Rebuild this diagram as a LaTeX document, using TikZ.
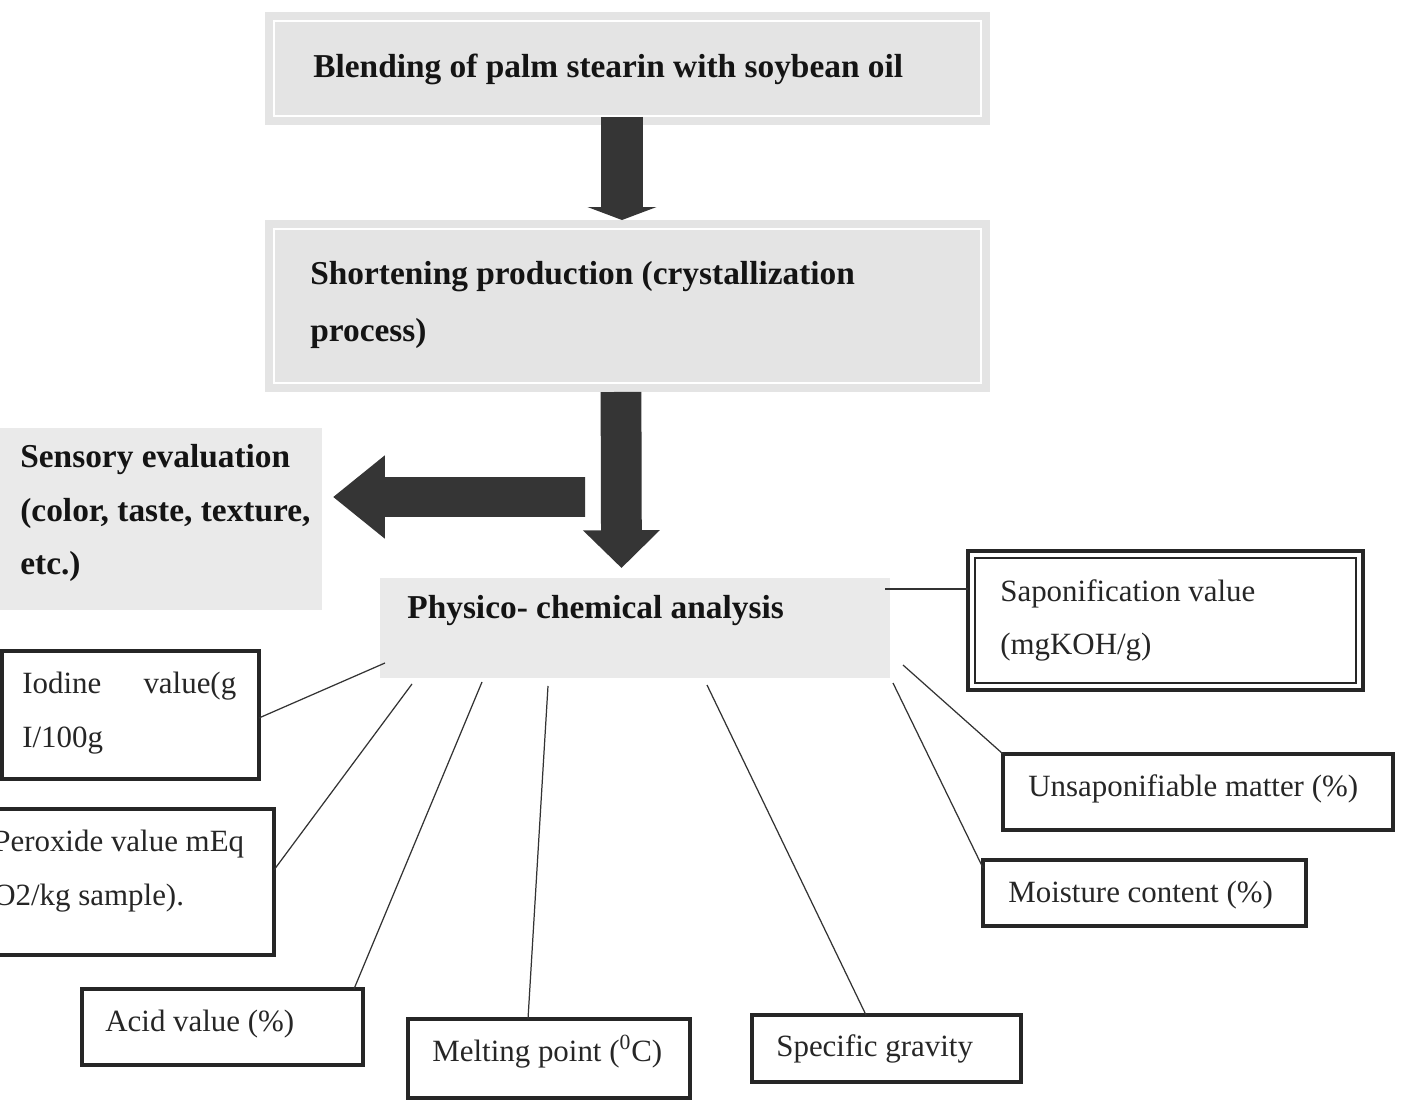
\documentclass[tikz,border=0pt]{standalone}
\usepackage{fontspec}
\setmainfont{Liberation Serif}
\usetikzlibrary{arrows.meta,calc}
\definecolor{boxgray}{HTML}{E4E4E4}
\definecolor{lightgray}{HTML}{EAEAEA}
\definecolor{arrowgray}{HTML}{353535}
\begin{document}
\begin{tikzpicture}[x=0.02cm,y=-0.02cm,
  greybox/.style={fill=boxgray, draw=none, inner sep=0pt, outer sep=0pt},
  paleBox/.style={fill=lightgray, draw=none, inner sep=0pt, outer sep=0pt},
  framebox/.style={draw=black!85, line width=1.9pt, fill=white, inner sep=0pt, outer sep=0pt},
  boldtxt/.style={anchor=base west, inner sep=0pt, align=left, text=black!92,
    font=\bfseries\fontsize{19}{30.6}\selectfont},
  regtxt/.style={anchor=base west, inner sep=0pt, align=left, text=black!85,
    font=\fontsize{17.6}{30.6}\selectfont},
  link/.style={draw=black!80, line width=0.7pt},
  blockarrow/.style={draw=arrowgray}
]
\clip (0,0) rectangle (1401,1101);
\fill[white] (0,0) rectangle (1401,1101);

% grey process boxes
\node[greybox, minimum width=14.5cm, minimum height=2.26cm] (b1) at (627.5,68.5) {};
\draw[white, line width=1.6pt] ([shift={(9,9)}]b1.north west) rectangle ([shift={(-9,-9)}]b1.south east);
\node[boldtxt] (b1t) at (313,78) {Blending of palm stearin with soybean oil};

\node[greybox, minimum width=14.5cm, minimum height=3.44cm] (b2) at (627.5,306) {};
\draw[white, line width=1.6pt] ([shift={(9,9)}]b2.north west) rectangle ([shift={(-9,-9)}]b2.south east);
\node[boldtxt, font=\bfseries\fontsize{19}{32.9}\selectfont] (b2t) at (310,342) {Shortening production (crystallization\\process)};

\node[paleBox, minimum width=6.44cm, minimum height=3.64cm] (sens) at (161,519) {};
\node[boldtxt] (senst) at (20,575) {Sensory evaluation\\(color, taste, texture,\\etc.)};

\node[paleBox, minimum width=10.2cm, minimum height=2.0cm] (phys) at (635,628) {};
\node[boldtxt] (physt) at (407,619) {Physico- chemical analysis};

% block arrows
\draw[blockarrow, line width=24.4pt, -{Triangle[width=39.1pt,length=7.4pt]}]
  ([xshift=-0.11cm,yshift=0.16cm]b1.south) -- ([xshift=-0.11cm]b2.north);
\draw[blockarrow, line width=23.2pt, -{Triangle[width=42.5pt,length=21.5pt]}]
  ([xshift=-0.13cm]b2.south) -- ([xshift=-0.27cm,yshift=0.2cm]phys.north);
\coordinate (a3s) at (585,497);
\draw[blockarrow, line width=22.7pt, -{Triangle[width=45.4pt,length=29.5pt]}]
  (a3s) -- ([xshift=0.22cm,yshift=0.44cm]sens.east);

% analysis boxes
\node[framebox, line width=2.3pt, minimum width=7.9cm, minimum height=2.78cm] (sap) at (1165.5,620.5) {};
\draw[black!85, line width=0.8pt] ([shift={(7,7)}]sap.north west) rectangle ([shift={(-7,-7)}]sap.south east);
\node[regtxt] (sapt) at (1000,655) {Saponification value\\(mgKOH/g)};

\node[framebox, minimum width=5.14cm, minimum height=2.56cm] (iod) at (130.5,715) {};
\node[regtxt] (iodt) at (22,747) {Iodine\hspace{24pt}value(g\\I/100g};

\node[framebox, minimum width=5.68cm, minimum height=2.92cm] (per) at (132,882) {};
\node[regtxt] (pert) at (-7,905) {Peroxide value mEq\\O2/kg sample).};

\node[framebox, minimum width=5.62cm, minimum height=1.52cm] (acid) at (222.5,1027) {};
\node[regtxt] (acidt) at (105,1031) {Acid value (\%)};

\node[framebox, minimum width=5.64cm, minimum height=1.58cm] (melt) at (549,1058.5) {};
\node[regtxt] (meltt) at (432,1061) {Melting point (\textsuperscript{0}C)};

\node[framebox, minimum width=5.38cm, minimum height=1.34cm] (spec) at (886.5,1048.5) {};
\node[regtxt] (spect) at (776,1056) {Specific gravity};

\node[framebox, minimum width=7.8cm, minimum height=1.52cm] (unsap) at (1198,792) {};
\node[regtxt] (unsapt) at (1028,796) {Unsaponifiable matter (\%)};

\node[framebox, minimum width=6.46cm, minimum height=1.32cm] (moist) at (1144.5,893) {};
\node[regtxt] (moistt) at (1008,902) {Moisture content (\%)};

% connectors
\coordinate (pS) at (885,589);
\coordinate (pI) at (385,663);
\coordinate (pP) at (412,684);
\coordinate (pA) at (482,682);
\coordinate (pM) at (548,686);
\coordinate (pG) at (707,685);
\coordinate (pU) at (903,665);
\coordinate (pW) at (893,683);
\draw[link] (pS) -- (sap.west |- pS);
\draw[link] (pI) -- ([yshift=-0.06cm]iod.east);
\draw[link] (pP) -- ([yshift=0.24cm]per.east);
\draw[link] (pA) -- ([xshift=-0.18cm]acid.north east);
\draw[link] (pM) -- ([xshift=-0.42cm]melt.north);
\draw[link] (pG) -- ([xshift=-0.41cm]spec.north);
\draw[link] (pU) -- (unsap.north west);
\draw[link] (pW) -- ([yshift=-0.16cm]moist.north west);
\end{tikzpicture}
\end{document}
